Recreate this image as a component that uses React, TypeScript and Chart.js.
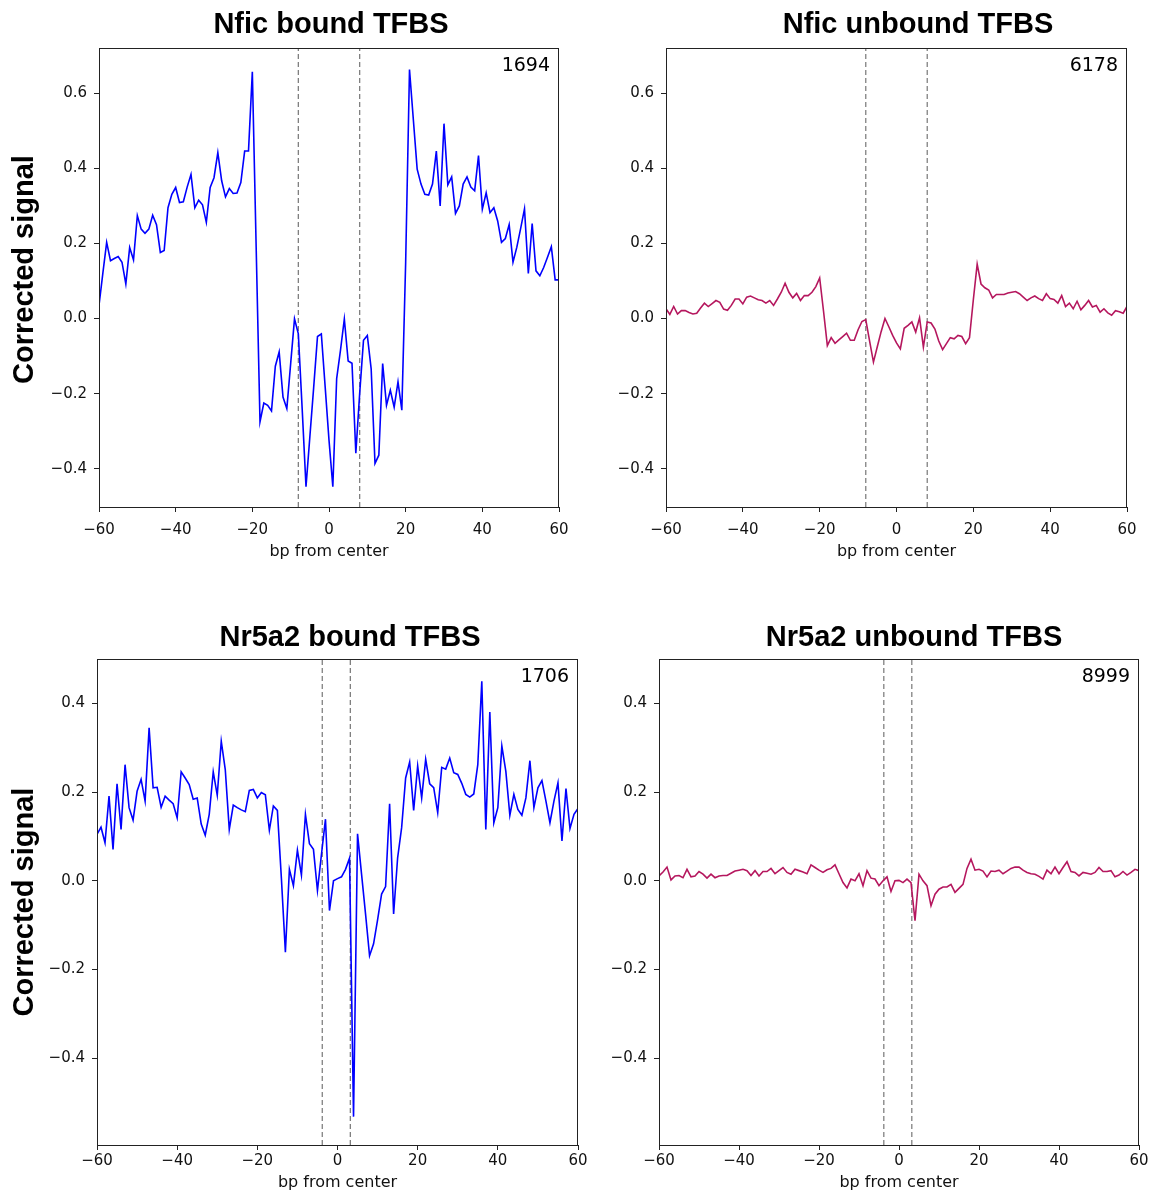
import React, { useEffect, useRef } from 'react';
import { Chart, registerables } from 'chart.js';

Chart.register(...registerables);

// bp positions (categories)
const bp: number[] = Array.from({ length: 121 }, (_, i) => i - 60);

const nficBound = [
  0.035, 0.12, 0.203, 0.154, 0.16, 0.165, 0.150, 0.092, 0.189, 0.156,
  0.274, 0.238, 0.227, 0.238, 0.275, 0.250, 0.176, 0.181, 0.295, 0.331,
  0.349, 0.309, 0.311, 0.35, 0.384, 0.295, 0.315, 0.303, 0.256, 0.349,
  0.375, 0.442, 0.367, 0.324, 0.346, 0.333, 0.334, 0.362, 0.446, 0.446,
  0.657, 0.19, -0.275, -0.225, -0.231, -0.246, -0.127, -0.089, -0.209, -0.240,
  -0.12, -0.001, -0.041, -0.24, -0.448, -0.316, -0.184, -0.048, -0.041, -0.182,
  -0.324,
  -0.448, -0.160, -0.084, -0.001, -0.113, -0.119, -0.359, -0.2, -0.058, -0.045,
  -0.134, -0.386, -0.364, -0.120, -0.231, -0.191, -0.236, -0.169, -0.244, 0.15,
  0.663, 0.53, 0.398, 0.358, 0.331, 0.329, 0.358, 0.446, 0.300, 0.519,
  0.356, 0.377, 0.280, 0.300, 0.358, 0.377, 0.350, 0.340, 0.434, 0.291,
  0.335, 0.282, 0.295, 0.260, 0.203, 0.213, 0.250, 0.150, 0.190, 0.24,
  0.292, 0.120, 0.253, 0.127, 0.114, 0.136, 0.163, 0.191, 0.103, 0.103,
];

const nficUnbound = [
  0.026, 0.011, 0.032, 0.012, 0.021, 0.021, 0.016, 0.012, 0.014, 0.028,
  0.041, 0.032, 0.040, 0.048, 0.043, 0.025, 0.022, 0.035, 0.052, 0.052,
  0.039, 0.057, 0.060, 0.055, 0.050, 0.048, 0.041, 0.048, 0.035, 0.052,
  0.070, 0.094, 0.070, 0.055, 0.067, 0.048, 0.061, 0.061, 0.070, 0.085,
  0.108, 0.02, -0.072, -0.051, -0.066, -0.057, -0.048, -0.039, -0.058, -0.058,
  -0.030, -0.008, -0.003, -0.06, -0.116, -0.075, -0.035, 0.0, -0.022, -0.045,
  -0.065,
  -0.081, -0.026, -0.018, -0.009, -0.036, 0.002, -0.076, -0.009, -0.012, -0.028,
  -0.06, -0.083, -0.067, -0.051, -0.054, -0.045, -0.048, -0.067, -0.051, 0.05,
  0.145, 0.092, 0.082, 0.076, 0.055, 0.064, 0.064, 0.064, 0.068, 0.070,
  0.072, 0.066, 0.057, 0.048, 0.055, 0.060, 0.053, 0.048, 0.066, 0.053,
  0.051, 0.041, 0.061, 0.032, 0.041, 0.026, 0.046, 0.023, 0.035, 0.048,
  0.031, 0.035, 0.017, 0.026, 0.015, 0.009, 0.021, 0.018, 0.014, 0.032,
];

const nr5a2Bound = [
  0.105, 0.121, 0.086, 0.191, 0.071, 0.219, 0.116, 0.262, 0.165, 0.137,
  0.202, 0.229, 0.180, 0.345, 0.210, 0.211, 0.166, 0.191, 0.182, 0.174,
  0.142, 0.246, 0.232, 0.217, 0.184, 0.187, 0.128, 0.103, 0.150, 0.246,
  0.193, 0.315, 0.251, 0.116, 0.171, 0.165, 0.160, 0.156, 0.204, 0.206,
  0.187, 0.199, 0.194, 0.114, 0.169, 0.159, 0.006, -0.161, 0.026, -0.011,
  0.069, 0.013, 0.150, 0.084, 0.071, -0.022, 0.06, 0.139, -0.067, 0.0,
  0.005,
  0.009, 0.026, 0.051, -0.532, 0.106, 0.015, -0.075, -0.169, -0.142, -0.088,
  -0.030, -0.013, 0.174, -0.075, 0.052, 0.120, 0.232, 0.268, 0.159, 0.259,
  0.187, 0.274, 0.219, 0.210, 0.154, 0.256, 0.252, 0.277, 0.244, 0.240,
  0.22, 0.195, 0.189, 0.196, 0.262, 0.450, 0.116, 0.381, 0.131, 0.165,
  0.304, 0.247, 0.148, 0.195, 0.161, 0.148, 0.187, 0.271, 0.165, 0.210,
  0.226, 0.18, 0.131, 0.18, 0.221, 0.090, 0.208, 0.118, 0.15, 0.163,
];

const nr5a2Unbound = [
  0.011, 0.02, 0.031, 0.002, 0.011, 0.012, 0.007, 0.026, 0.009, 0.011,
  0.021, 0.015, 0.006, 0.015, 0.007, 0.011, 0.012, 0.012, 0.017, 0.022,
  0.024, 0.026, 0.023, 0.012, 0.023, 0.011, 0.021, 0.021, 0.028, 0.016,
  0.023, 0.030, 0.019, 0.015, 0.026, 0.023, 0.02, 0.016, 0.036, 0.03,
  0.024, 0.019, 0.025, 0.028, 0.036, 0.016, -0.004, -0.016, 0.004, 0.0,
  0.016, -0.011, 0.023, 0.006, 0.004, -0.011, 0.0, 0.009, -0.024, 0.0,
  0.001,
  -0.004, 0.004, -0.004, -0.090, 0.015, 0.0, -0.011, -0.056, -0.030, -0.019,
  -0.014, -0.014, -0.008, -0.026, -0.017, -0.008, 0.028, 0.049, 0.024, 0.026,
  0.022, 0.009, 0.022, 0.021, 0.024, 0.016, 0.022, 0.028, 0.031, 0.031,
  0.024, 0.019, 0.016, 0.015, 0.01, 0.004, 0.024, 0.016, 0.031, 0.016,
  0.03, 0.043, 0.021, 0.019, 0.011, 0.019, 0.017, 0.015, 0.019, 0.030,
  0.021, 0.021, 0.023, 0.009, 0.013, 0.021, 0.013, 0.019, 0.026, 0.023,
];

const xTicks = [-60, -40, -20, 0, 20, 40, 60];
const yTicksTop = [-0.4, -0.2, 0.0, 0.2, 0.4, 0.6];
const yTicksBottom = [-0.4, -0.2, 0.0, 0.2, 0.4];
const yRangeTop = [-0.502, 0.72];
const yRangeBottom = [-0.596, 0.5];
const nficMotifEdges = [-8, 8];
const nr5a2MotifEdges = [-3.8, 3.2];

const BOUND_COLOR = '#0000ff';
const UNBOUND_COLOR = '#b5175e';
const TICK_FONT = { family: '"DejaVu Sans", sans-serif', size: 15 };
const TITLE_FONT = { family: '"Liberation Sans", Arial, sans-serif', size: 29, weight: 'bold' as const };

const minus = (s: string) => s.replace('-', '\u2212');

type PanelProps = {
  left: number; top: number; width: number; height: number;
  yAxisWidth: number; padRight: number; xAxisHeight: number;
  titlePadTop: number; titlePadBottom: number; xTitlePadBottom: number; xTickPad: number;
  title: string; count: string; values: number[]; color: string;
  yRange: number[]; yTicks: number[]; motif: number[]; yTitle?: string;
};

function Panel(p: PanelProps) {
  const ref = useRef<HTMLCanvasElement>(null);
  useEffect(() => {
    if (!ref.current) return;
    const framePlugin = {
      id: 'frameAndCount',
      afterDraw(chart: any) {
        const { ctx, chartArea } = chart;
        ctx.save();
        ctx.strokeStyle = '#222';
        ctx.lineWidth = 1;
        ctx.strokeRect(Math.round(chartArea.left) + 0.5, Math.round(chartArea.top) + 0.5,
          Math.round(chartArea.right - chartArea.left) - 1, Math.round(chartArea.bottom - chartArea.top));
        ctx.fillStyle = '#000';
        ctx.font = '19px "DejaVu Sans", sans-serif';
        ctx.textAlign = 'right';
        ctx.textBaseline = 'middle';
        ctx.fillText(p.count, chartArea.right - 9, chartArea.top + 18);
        ctx.restore();
      },
    };
    const datasets: any[] = [
      {
        data: bp.map((x, i) => ({ x, y: p.values[i] })),
        borderColor: p.color, borderWidth: 1.6, pointRadius: 0, tension: 0, fill: false,
      },
      ...p.motif.map((m) => ({
        data: [{ x: m, y: p.yRange[0] }, { x: m, y: p.yRange[1] }],
        borderColor: '#808080', borderWidth: 1.3, borderDash: [5, 3], pointRadius: 0, fill: false,
      })),
    ];
    const chart = new Chart(ref.current, {
      type: 'line',
      data: { datasets },
      options: {
        animation: false,
        responsive: false,
        maintainAspectRatio: false,
        layout: { padding: 0 },
        plugins: {
          legend: { display: false },
          tooltip: { enabled: false },
          title: {
            display: true, text: p.title, fullSize: true, color: '#000', font: TITLE_FONT,
            padding: { top: p.titlePadTop, bottom: p.titlePadBottom },
          },
        },
        scales: {
          x: {
            type: 'linear', min: -60, max: 60,
            afterBuildTicks: (s: any) => { s.ticks = xTicks.map((v) => ({ value: v })); },
            afterFit: (s: any) => { s.height = p.xAxisHeight; },
            ticks: { font: TICK_FONT, color: '#111', padding: p.xTickPad, maxRotation: 0, autoSkip: false,
              callback: (v: any) => minus(String(v)) },
            grid: { drawOnChartArea: false, drawTicks: true, tickLength: 5, color: '#222' },
            border: { display: false },
            title: { display: true, text: 'bp from center', color: '#111',
              font: { family: '"DejaVu Sans", sans-serif', size: 16 },
              padding: { top: 0, bottom: p.xTitlePadBottom } },
          },
          y: {
            type: 'linear', min: p.yRange[0], max: p.yRange[1],
            afterBuildTicks: (s: any) => { s.ticks = p.yTicks.map((v) => ({ value: v })); },
            afterFit: (s: any) => { s.width = p.yAxisWidth; },
            ticks: { font: TICK_FONT, color: '#111', padding: 7, autoSkip: false,
              callback: (v: any) => minus(Number(v).toFixed(1)) },
            grid: { drawOnChartArea: false, drawTicks: true, tickLength: 5, color: '#222' },
            border: { display: false },
            title: p.yTitle ? { display: true, text: p.yTitle, color: '#000', font: TITLE_FONT,
              padding: { top: 7.6, bottom: 0 } } : { display: false },
          },
          spacer: {
            type: 'linear', position: 'right', display: true,
            ticks: { display: false }, grid: { display: false }, border: { display: false },
            afterFit: (s: any) => { s.width = p.padRight; },
          },
        },
      } as any,
      plugins: [framePlugin],
    });
    return () => chart.destroy();
  }, []);
  return (
    <canvas ref={ref} width={p.width} height={p.height}
      style={{ position: 'absolute', left: p.left, top: p.top, width: p.width, height: p.height }} />
  );
}

export default function App() {
  return (
    <div style={{ position: 'absolute', left: 0, top: 0, width: 1156, height: 1192, background: '#fff', overflow: 'hidden' }}>
      <Panel left={0} top={0} width={662} height={575} yAxisWidth={99} padRight={103} xAxisHeight={68}
        titlePadTop={7.7} titlePadBottom={5.7} xTitlePadBottom={13.4} xTickPad={9}
        title="Nfic bound TFBS" count="1694" values={nficBound} color={BOUND_COLOR}
        yRange={yRangeTop} yTicks={yTicksTop} motif={nficMotifEdges} yTitle={'  Corrected signal'} />
      <Panel left={578} top={0} width={680} height={575} yAxisWidth={88} padRight={131} xAxisHeight={68}
        titlePadTop={7.7} titlePadBottom={5.7} xTitlePadBottom={13.4} xTickPad={9}
        title="Nfic unbound TFBS" count="6178" values={nficUnbound} color={UNBOUND_COLOR}
        yRange={yRangeTop} yTicks={yTicksTop} motif={nficMotifEdges} />
      <Panel left={0} top={590} width={700} height={602} yAxisWidth={97} padRight={122} xAxisHeight={47}
        titlePadTop={30.2} titlePadBottom={4.2} xTitlePadBottom={0} xTickPad={2}
        title="Nr5a2 bound TFBS" count="1706" values={nr5a2Bound} color={BOUND_COLOR}
        yRange={yRangeBottom} yTicks={yTicksBottom} motif={nr5a2MotifEdges} yTitle="Corrected signal" />
      <Panel left={590} top={590} width={648} height={602} yAxisWidth={69} padRight={99} xAxisHeight={47}
        titlePadTop={30.2} titlePadBottom={4.2} xTitlePadBottom={0} xTickPad={2}
        title="Nr5a2 unbound TFBS" count="8999" values={nr5a2Unbound} color={UNBOUND_COLOR}
        yRange={yRangeBottom} yTicks={yTicksBottom} motif={nr5a2MotifEdges} />
    </div>
  );
}
